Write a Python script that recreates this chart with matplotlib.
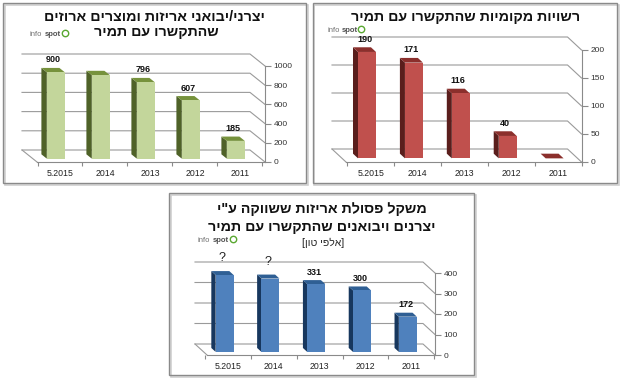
import matplotlib
matplotlib.use('Agg')
import matplotlib.pyplot as plt
from matplotlib.patches import Polygon, Rectangle
from matplotlib.lines import Line2D

# ---------------- data ----------------
categories = ['5.2015', '2014', '2013', '2012', '2011']

green_values = [900, 870, 796, 607, 185]
green_labels = ['900', '', '796', '607', '185']
green_ticks = [0, 200, 400, 600, 800, 1000]
green_title = ['יצרני/יבואני אריזות ומוצרים ארוזים', 'שהתקשרו עם תמיר']

red_values = [190, 171, 116, 40, 0]
red_labels = ['190', '171', '116', '40', '']
red_ticks = [0, 50, 100, 150, 200]
red_title = ['רשויות מקומיות שהתקשרו עם תמיר']

blue_values = [375, 358, 331, 300, 172]
blue_labels = ['?', '?', '331', '300', '172']
blue_ticks = [0, 100, 200, 300, 400]
blue_title = ['משקל פסולת אריזות ששווקה ע"י', 'יצרנים ויבואנים שהתקשרו עם תמיר']
blue_subtitle = '[אלפי טון]'

# ---------------- helpers ----------------
W, H = 620, 378
HEB = ['Liberation Sans', 'DejaVu Sans']
plt.rcParams['font.family'] = ['Liberation Sans', 'DejaVu Sans']

fig = plt.figure(figsize=(W / 100, H / 100), dpi=100)
fig.patch.set_facecolor('white')


def vis(s):
    r = s[::-1]
    return r.translate(str.maketrans('[]()', '][)('))


def fx(x):
    return x / W


def fy(y):
    return 1 - y / H


def panel_box(x0, y0, x1, y1):
    fig.add_artist(Rectangle((fx(x0 + 1.5), fy(y1 + 1.5)), (x1 - x0) / W, (y1 - y0) / H,
                             transform=fig.transFigure, fill=False,
                             edgecolor='#d0d0d0', lw=1.2))
    fig.add_artist(Rectangle((fx(x0), fy(y1)), (x1 - x0) / W, (y1 - y0) / H,
                             transform=fig.transFigure, fill=False,
                             edgecolor='#8a8a8a', lw=1.0))


def info_spot(x, y):
    fig.text(fx(x), fy(y), 'info', fontsize=5.5, color='#707070',
             ha='left', va='center')
    fig.text(fx(x + 15), fy(y), 'spot', fontsize=5.5, color='#505050',
             fontweight='bold', ha='left', va='center')
    fig.add_artist(Line2D([fx(x + 34.5)], [fy(y - 1.5)], marker='o', ms=4.6,
                          mfc='none', mec='#5aa832', mew=1.0,
                          transform=fig.transFigure))


def chart(values, labels, ticks, xL, xR, y0, ytop, c0, s, dxp, dyp,
          front, side, top):
    vmax = ticks[-1]
    ax = fig.add_axes([fx(xL), fy(y0), (xR - xL) / W, (y0 - ytop) / H])
    ax.patch.set_alpha(0)
    xmin, xmax = (xL - c0) / s, (xR - c0) / s
    ax.set_xlim(xmin, xmax)
    ax.set_ylim(0, vmax)
    DX = dxp / s
    DY = dyp * vmax / (y0 - ytop)
    grid_c = '#9a9a9a'
    for v in ticks:
        ax.plot([xmin, xmax - DX, xmax], [v + DY, v + DY, v], color=grid_c,
                lw=0.8, clip_on=False, zorder=1)
    ax.plot([xmin, xmin + DX], [DY, 0], color=grid_c, lw=0.8, clip_on=False, zorder=1)

    for sp in ['top', 'left']:
        ax.spines[sp].set_visible(False)
    ax.spines['right'].set_color('#8a8a8a')
    ax.spines['bottom'].set_color('#8a8a8a')
    ax.spines['bottom'].set_bounds(xmin + DX, xmax)
    ax.yaxis.tick_right()
    ax.set_yticks(ticks)
    ax.tick_params(axis='y', direction='out', length=4, width=0.8,
                   colors='#8a8a8a', labelcolor='#333333', labelsize=6, pad=2)
    ax.set_xticks(range(len(categories)))
    ax.set_xticklabels(categories)
    ax.tick_params(axis='x', length=0, labelsize=6.3, labelcolor='#222222', pad=5)
    ax.set_xticks([i + 0.5 for i in range(-1, len(categories))], minor=True)
    ax.tick_params(axis='x', which='minor', length=3, width=0.8, colors='#8a8a8a')

    fF, fB = 0.28, 0.64
    w = 18 / s
    ddx, ddy = (fB - fF) * DX, (fB - fF) * DY
    for i, v in enumerate(values):
        xc = i - fF * DX
        yb = fF * DY
        xl, xr = xc - w / 2, xc + w / 2
        yt = yb + v
        ax.add_patch(Polygon([(xl, yb), (xl, yt), (xl - ddx, yt + ddy), (xl - ddx, yb + ddy)],
                             closed=True, facecolor=side, edgecolor='none', zorder=3,
                             clip_on=False))
        ax.add_patch(Polygon([(xl, yt), (xr, yt), (xr - ddx, yt + ddy), (xl - ddx, yt + ddy)],
                             closed=True, facecolor=top, edgecolor='none', zorder=3,
                             clip_on=False))
        ax.bar(xc, v, bottom=yb, width=w, color=front, edgecolor='none', zorder=4,
               clip_on=False)
        lab = labels[i]
        if lab:
            if lab == '?':
                ax.annotate(lab, (xc - ddx / 2, yt + ddy), xytext=(0, 5),
                            textcoords='offset points', ha='center', va='bottom',
                            fontsize=9, color='#222222', annotation_clip=False)
            else:
                ax.annotate(lab, (xc - ddx / 2, yt + ddy), xytext=(0, 2.5),
                            textcoords='offset points', ha='center', va='bottom',
                            fontsize=6.5, fontweight='bold', color='#111111',
                            annotation_clip=False)
    return ax


# ---------------- top-left (green) ----------------
panel_box(3, 3, 306, 183)
fig.text(fx(154), fy(17), vis(green_title[0]), fontsize=10.3, fontweight='bold',
         family=HEB, ha='center', va='center', color='#111111')
fig.text(fx(156), fy(32), vis(green_title[1]), fontsize=10.3, fontweight='bold',
         family=HEB, ha='center', va='center', color='#111111')
info_spot(30, 34)
chart(green_values, green_labels, green_ticks, 22, 265, 162, 66, 60, 45, 15, 12,
      '#c3d69b', '#4f6228', '#76923c')

# ---------------- top-right (red) ----------------
panel_box(313, 3, 617, 183)
fig.text(fx(466), fy(17), vis(red_title[0]), fontsize=10.3, fontweight='bold',
         family=HEB, ha='center', va='center', color='#111111')
info_spot(327, 30)
chart(red_values, red_labels, red_ticks, 332, 582, 162, 50, 371, 47, 14, 13,
      '#c0504d', '#5a1e1c', '#8b2f2c')

# ---------------- bottom (blue) ----------------
panel_box(169, 193, 474, 375)
fig.text(fx(322), fy(209), vis(blue_title[0]), fontsize=10.3, fontweight='bold',
         family=HEB, ha='center', va='center', color='#111111')
fig.text(fx(322), fy(227), vis(blue_title[1]), fontsize=10.3, fontweight='bold',
         family=HEB, ha='center', va='center', color='#111111')
fig.text(fx(323), fy(243), vis(blue_subtitle), fontsize=7.5,
         family=HEB, ha='center', va='center', color='#222222')
info_spot(198, 240)
chart(blue_values, blue_labels, blue_ticks, 195, 435, 355, 273, 228, 45.8, 12, 11,
      '#4f81bd', '#17375e', '#2f5f94')

fig.savefig('out.png', dpi=100, facecolor='white')
